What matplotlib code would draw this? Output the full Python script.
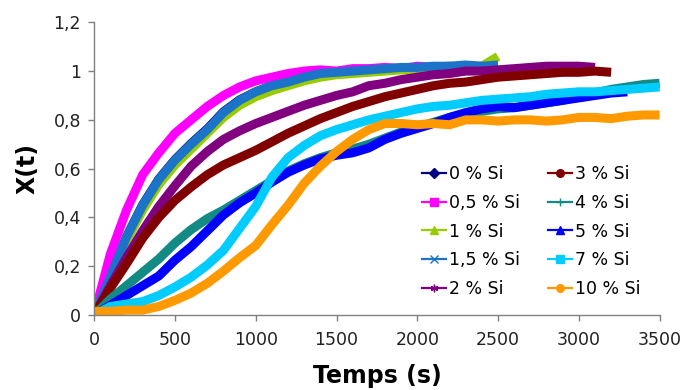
import matplotlib
matplotlib.use("Agg")
import matplotlib.pyplot as plt
from matplotlib.lines import Line2D

plt.rcParams['font.family'] = ['DejaVu Sans']

time_s = [0, 100, 200, 300, 400, 500, 600, 700, 800, 900, 1000, 1100, 1200, 1300,
          1400, 1500, 1600, 1700, 1800, 1900, 2000, 2100, 2200, 2300, 2400, 2500,
          2600, 2700, 2800, 2900, 3000, 3100, 3200, 3300, 3400, 3500]

labels = ["0 % Si", "0,5 % Si", "1 % Si", "1,5 % Si", "2 % Si",
          "3 % Si", "4 % Si", "5 % Si", "7 % Si", "10 % Si"]

si_0 = [0.0, 0.155, 0.32, 0.452, 0.557, 0.637, 0.703, 0.763, 0.833, 0.882, 0.915, 0.94,
        0.955, 0.975, 0.985, 0.99, 0.995, 1.0, 1.005, 1.01, 1.01, 1.015, 1.015, 1.02, 1.015, 1.02]
si_05 = [0.0, 0.25, 0.43, 0.575, 0.665, 0.745, 0.80, 0.855, 0.90, 0.935, 0.96, 0.975,
         0.99, 1.0, 1.005, 1.0, 1.01, 1.01, 1.015, 1.01, 1.02, 1.015, 1.02, 1.015, 1.02, 1.02]
si_1 = [0.0, 0.145, 0.305, 0.43, 0.535, 0.615, 0.68, 0.745, 0.81, 0.86, 0.895, 0.92,
        0.94, 0.96, 0.975, 0.985, 0.99, 0.995, 1.0, 1.005, 1.01, 1.015, 1.015, 1.02, 1.02, 1.06]
si_15 = [0.0, 0.155, 0.32, 0.45, 0.555, 0.635, 0.70, 0.76, 0.83, 0.88, 0.915, 0.94,
         0.955, 0.975, 0.99, 0.995, 1.0, 1.005, 1.01, 1.015, 1.015, 1.02, 1.02, 1.025, 1.02, 1.025]
si_2 = [0.0, 0.12, 0.235, 0.345, 0.445, 0.53, 0.61, 0.67, 0.72, 0.755, 0.785, 0.81,
        0.835, 0.86, 0.88, 0.90, 0.915, 0.94, 0.95, 0.965, 0.975, 0.985, 0.99, 1.0,
        1.0, 1.005, 1.01, 1.015, 1.02, 1.02, 1.02, 1.015]
si_3 = [0.0, 0.11, 0.21, 0.315, 0.40, 0.47, 0.525, 0.575, 0.615, 0.645, 0.675, 0.71,
        0.745, 0.775, 0.805, 0.83, 0.855, 0.875, 0.895, 0.91, 0.925, 0.94, 0.95, 0.955,
        0.965, 0.975, 0.98, 0.985, 0.99, 0.995, 0.995, 1.0, 0.995]
si_4 = [0.0, 0.065, 0.12, 0.175, 0.23, 0.295, 0.35, 0.395, 0.43, 0.47, 0.51, 0.55,
        0.59, 0.62, 0.645, 0.665, 0.68, 0.70, 0.725, 0.75, 0.77, 0.79, 0.81, 0.825,
        0.835, 0.845, 0.85, 0.86, 0.87, 0.88, 0.895, 0.91, 0.925, 0.935, 0.945, 0.95]
si_5 = [0.0, 0.04, 0.08, 0.12, 0.16, 0.225, 0.28, 0.345, 0.41, 0.46, 0.50, 0.545,
        0.585, 0.615, 0.64, 0.655, 0.665, 0.685, 0.72, 0.745, 0.765, 0.785, 0.81, 0.83,
        0.845, 0.855, 0.85, 0.86, 0.87, 0.88, 0.89, 0.90, 0.91, 0.915]
si_7 = [0.0, 0.035, 0.045, 0.055, 0.08, 0.115, 0.155, 0.205, 0.265, 0.355, 0.445, 0.565,
        0.645, 0.695, 0.735, 0.76, 0.78, 0.80, 0.815, 0.83, 0.845, 0.855, 0.86, 0.87,
        0.88, 0.885, 0.89, 0.895, 0.905, 0.91, 0.915, 0.915, 0.92, 0.925, 0.93, 0.935]
si_10 = [0.015, 0.015, 0.02, 0.02, 0.035, 0.06, 0.09, 0.13, 0.18, 0.235, 0.285, 0.37,
         0.45, 0.54, 0.61, 0.67, 0.72, 0.76, 0.785, 0.785, 0.78, 0.785, 0.78, 0.80,
         0.80, 0.795, 0.80, 0.80, 0.795, 0.80, 0.81, 0.81, 0.805, 0.815, 0.82, 0.82]

series = [si_0, si_05, si_1, si_15, si_2, si_3, si_4, si_5, si_7, si_10]
colors = ["#000080", "#FF00FF", "#99CC00", "#1C74C8", "#800080",
          "#800000", "#138A84", "#0000FF", "#00CCFF", "#FF9900"]
markers = ["D", "s", "^", "x", (6, 2, 0), "o", "+", "^", "s", "o"]

fig = plt.figure(figsize=(6.83, 3.90), dpi=100)
ax = fig.add_axes([94.2 / 683, 75 / 390, (659.6 - 94.2) / 683, (315 - 22.3) / 390])

for vals, col in zip(series, colors):
    ax.plot(time_s[:len(vals)], vals, color=col, lw=6.5, solid_capstyle='butt',
            solid_joinstyle='round')

ax.set_xlim(0, 3500)
ax.set_ylim(0, 1.2)
ax.set_xticks([0, 500, 1000, 1500, 2000, 2500, 3000, 3500])
ax.set_xticklabels(["0", "500", "1000", "1500", "2000", "2500", "3000", "3500"])
ax.set_yticks([0, 0.2, 0.4, 0.6, 0.8, 1.0, 1.2])
ax.set_yticklabels(["0", "0,2", "0,4", "0,6", "0,8", "1", "1,2"])

for s in ["top", "right"]:
    ax.spines[s].set_visible(False)
for s in ["left", "bottom"]:
    ax.spines[s].set_color("#808080")
    ax.spines[s].set_linewidth(1.0)
ax.tick_params(axis='both', colors="#808080", labelcolor="#222222", labelsize=12.5,
               length=4.5, width=1.0, direction='out')
ax.tick_params(axis='x', pad=7)
ax.tick_params(axis='y', pad=5)

ax.set_xlabel("Temps (s)", fontsize=17, fontweight='bold', labelpad=11)
ax.set_ylabel("X(t)", fontsize=17, fontweight='bold', labelpad=10)

handles = [Line2D([0], [0], color=c, lw=1.6, marker=m, markersize=5.5,
                  markerfacecolor=c, markeredgecolor=c)
           for c, m in zip(colors, markers)]
fig.legend(handles, labels, ncol=2, loc='upper left',
           bbox_to_anchor=(422 / 683, 1 - 165 / 390), frameon=False,
           fontsize=12.5, handlelength=1.4, handletextpad=0.15,
           columnspacing=1.6, labelspacing=0.62, borderpad=0, borderaxespad=0)

fig.savefig("out.png", dpi=100)
